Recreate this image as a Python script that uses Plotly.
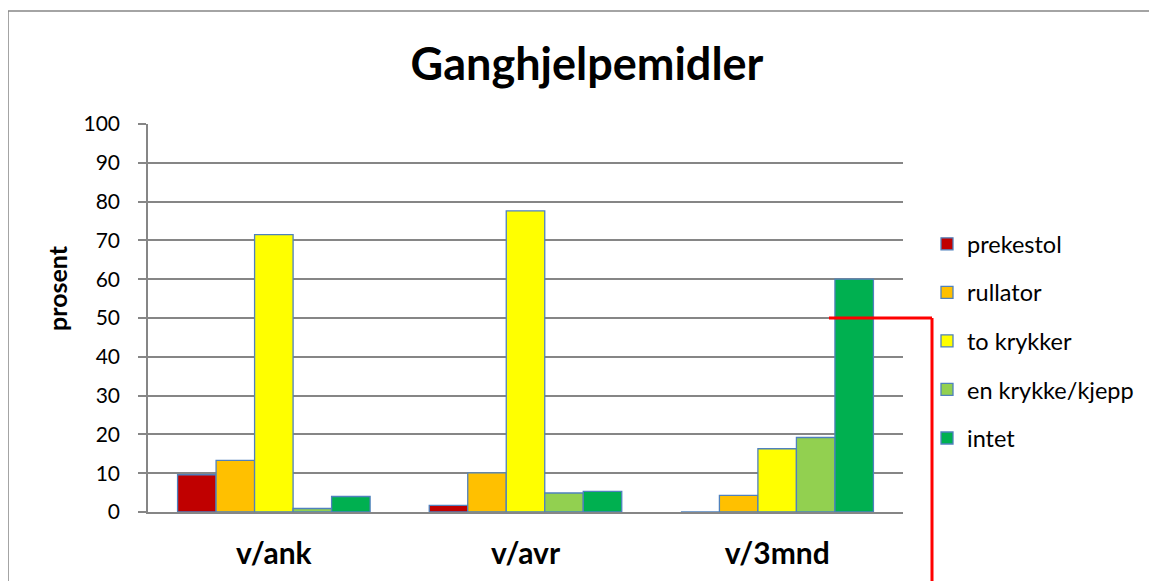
import plotly.graph_objects as go

categories = ["v/ank", "v/avr", "v/3mnd"]
series_names = ["prekestol", "rullator", "to krykker", "en krykke/kjepp", "intet"]
prekestol = [9.6, 1.7, 0.0]
rullator = [13.3, 10.1, 4.3]
to_krykker = [71.5, 77.6, 16.3]
en_krykke = [0.9, 4.9, 19.2]
intet = [4.0, 5.3, 60.0]
y_ticks = list(range(0, 101, 10))
marker_value = 50

colors = ["#C00000", "#FFC000", "#FFFF00", "#92D050", "#00B050"]
values = [prekestol, rullator, to_krykker, en_krykke, intet]

FONT = "Lato"
fig = go.Figure()
for name, vals, col in zip(series_names, values, colors):
    fig.add_trace(go.Bar(
        x=categories, y=vals, name=name, legendgroup=name,
        marker=dict(color=col, line=dict(color="#4F81BD", width=1.3)),
    ))

W, H = 1157, 581
OFF = 8  # page offset of the figure in the browser
L, T = 148 - OFF, 124 - OFF
pw, ph = 755, 388
R = W - L - pw
B = H - T - ph

def px_x(px):
    return (px - OFF - L) / pw

def px_y(py):
    return (T + ph - (py - OFF)) / ph

fig.update_layout(
    width=W, height=H,
    margin=dict(l=L, r=R, t=T, b=B),
    paper_bgcolor="white", plot_bgcolor="white",
    barmode="group", bargap=0.235, bargroupgap=0,
    font=dict(family=FONT, color="black"),
    title=dict(text="<b>Ganghjelpemidler</b>", x=(587 - OFF) / W, xanchor="center",
               y=1 - (64 - OFF) / H, yanchor="middle", font=dict(size=45, family=FONT)),
    legend=dict(x=px_x(927), xanchor="left", y=px_y(222), yanchor="top",
                font=dict(size=23.5, family=FONT), tracegroupgap=15,
                bgcolor="rgba(0,0,0,0)"),
    showlegend=True,
)
fig.update_yaxes(
    range=[0, 100], tickvals=y_ticks, showgrid=True, gridcolor="#868686", gridwidth=1.6,
    showline=True, linecolor="#868686", linewidth=1.6,
    ticks="outside", ticklen=8, tickcolor="#868686", tickwidth=1.6,
    tickfont=dict(size=21, family=FONT), ticklabelstandoff=14,
    zeroline=False, fixedrange=True,
)
fig.update_xaxes(
    showline=True, linecolor="#868686", linewidth=1.6,
    tickfont=dict(size=30, family=FONT), ticklabelstandoff=14,
    tickmode="array", tickvals=categories,
    ticktext=[f"<b>{c}</b>" for c in categories],
)

fig.add_annotation(text="<b>prosent</b>", xref="paper", yref="paper",
                   x=px_x(57), y=px_y(288), xanchor="center", yanchor="middle",
                   textangle=-90, showarrow=False, font=dict(size=25, family=FONT))

# outer chart frame
fig.add_shape(type="rect", xref="paper", yref="paper",
              x0=px_x(8), x1=px_x(1300), y0=px_y(700), y1=px_y(11),
              line=dict(color="#868686", width=1.5), fillcolor="rgba(0,0,0,0)", layer="below")
# red connector
ym = marker_value / 100
fig.add_shape(type="line", xref="paper", yref="paper",
              x0=px_x(829), x1=px_x(932), y0=ym, y1=ym,
              line=dict(color="#FF0000", width=3))
fig.add_shape(type="line", xref="paper", yref="paper",
              x0=px_x(932), x1=px_x(932), y0=ym, y1=px_y(600),
              line=dict(color="#FF0000", width=3))

fig.write_html("out.html")
